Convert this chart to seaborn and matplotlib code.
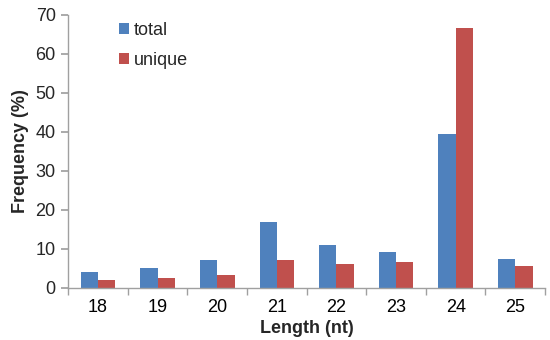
import pandas as pd
import matplotlib
matplotlib.use('Agg')
import matplotlib.pyplot as plt
import seaborn as sns

lengths = ['18', '19', '20', '21', '22', '23', '24', '25']
total = [4.2, 5.2, 7.1, 16.8, 10.9, 9.2, 39.6, 7.5]
unique = [2.0, 2.6, 3.3, 7.3, 6.1, 6.7, 66.7, 5.6]

df = pd.DataFrame({
    'length': lengths * 2,
    'freq': total + unique,
    'kind': ['total'] * len(lengths) + ['unique'] * len(lengths),
})

sns.set_theme(style='white')
plt.rcParams['font.family'] = ['Liberation Sans', 'DejaVu Sans']

fig, ax = plt.subplots(figsize=(5.5, 3.4), dpi=100)
fig.subplots_adjust(left=0.124, right=0.991, top=0.956, bottom=0.153)

sns.barplot(data=df, x='length', y='freq', hue='kind', order=lengths,
            palette={'total': '#4F81BD', 'unique': '#C0504D'},
            width=0.58, saturation=1, linewidth=0, ax=ax)

ax.set_ylim(0, 70)
ax.set_xlim(-0.5, len(lengths) - 0.5)
ax.set_yticks(range(0, 71, 10))
ax.set_xticks([i + 0.5 for i in range(-1, len(lengths))], minor=True)

sns.despine(ax=ax)
for side in ['left', 'bottom']:
    ax.spines[side].set_color('#a0a0a0')
    ax.spines[side].set_linewidth(1)

ax.tick_params(axis='x', which='major', length=0, labelsize=13, pad=8, colors='black')
ax.tick_params(axis='x', which='minor', length=5, color='#a0a0a0', bottom=True)
ax.tick_params(axis='y', length=5, color='#a0a0a0', left=True, labelsize=13, pad=4)

ax.set_xlabel('Length (nt)', fontsize=13, fontweight='bold', labelpad=3)
ax.set_ylabel('Frequency (%)', fontsize=13, fontweight='bold', labelpad=5)

ax.legend(loc='upper left', bbox_to_anchor=(0.073, 1.035), frameon=False,
          fontsize=13, handlelength=0.55, handleheight=0.55, handletextpad=0.25,
          labelspacing=0.75)

plt.savefig('out.png', dpi=100)
